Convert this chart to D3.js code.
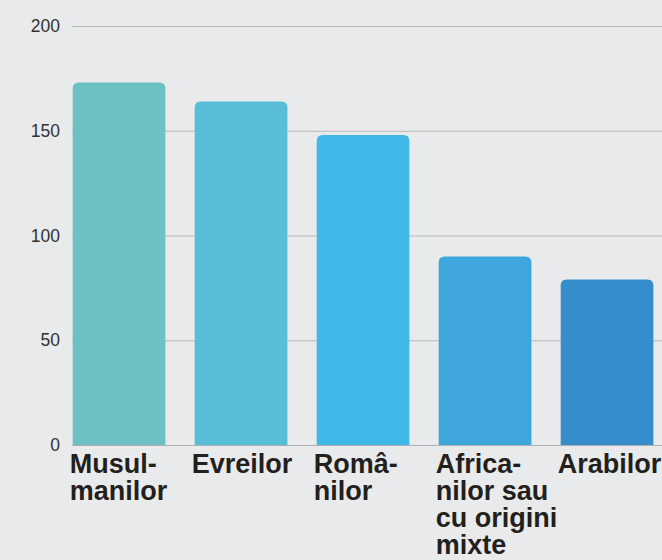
<!DOCTYPE html>
<html><head><meta charset="utf-8">
<script src="https://cdn.jsdelivr.net/npm/d3@7"></script>
<style>
html,body{margin:0;padding:0;background:#e9eaeb;}
svg{display:block;}
</style></head>
<body>
<svg id="chart" width="662" height="560"></svg>
<script>
const categories = ["Musulmanilor","Evreilor","Românilor","Africanilor sau cu origini mixte","Arabilor"];
const labelLines = [["Musul-","manilor"],["Evreilor"],["Româ-","nilor"],["Africa-","nilor sau","cu origini","mixte"],["Arabilor"]];
const values = [173, 164, 148, 90, 79];
const colors = ["#6dc1c3","#58bdd6","#40b9e8","#3fa6dd","#368dcc"];
const yTicks = [0, 50, 100, 150, 200];

const svg = d3.select("#chart");
const x = d3.scaleBand().domain(categories).range([72.7, 653.4]).paddingInner(0.24).paddingOuter(0);
const y = d3.scaleLinear().domain([0, 200]).range([445, 26]);

// gridlines
svg.append("g").selectAll("line").data(yTicks.filter(d=>d>0)).join("line")
  .attr("x1", 72).attr("x2", 662)
  .attr("y1", d=>y(d)+0.5).attr("y2", d=>y(d)+0.5)
  .attr("stroke", "#b9b9b9").attr("stroke-width", 1);

// y tick labels
svg.append("g").selectAll("text").data(yTicks).join("text")
  .attr("x", 60).attr("y", d=>y(d))
  .attr("dy", "0.35em")
  .attr("text-anchor", "end")
  .attr("font-family", "Liberation Sans, Arial, sans-serif")
  .attr("font-size", 17.5)
  .attr("fill", "#333")
  .text(d=>d);

// bars with rounded top corners
function barPath(x0, w, yTop, yBot, r){
  r = Math.min(r, w/2, yBot-yTop);
  return `M${x0},${yBot}V${yTop+r}Q${x0},${yTop} ${x0+r},${yTop}H${x0+w-r}Q${x0+w},${yTop} ${x0+w},${yTop+r}V${yBot}Z`;
}
svg.append("g").selectAll("path").data(categories).join("path")
  .attr("d", (c,i)=>barPath(x(c), x.bandwidth(), y(values[i]), y(0), 6))
  .attr("fill", (c,i)=>colors[i]);

// baseline
svg.append("line").attr("x1", 72).attr("x2", 662)
  .attr("y1", y(0)+0.5).attr("y2", y(0)+0.5)
  .attr("stroke", "#b0b0b0").attr("stroke-width", 1);

// category labels
const lab = svg.append("g").selectAll("text").data(categories).join("text")
  .attr("x", c=>x(c)-3)
  .attr("y", 473)
  .attr("font-family", "Liberation Sans, Arial, sans-serif")
  .attr("font-weight", "bold")
  .attr("font-size", 27)
  .attr("fill", "#231f1c");
lab.each(function(c,i){
  d3.select(this).selectAll("tspan").data(labelLines[i]).join("tspan")
    .attr("x", x(c)-3)
    .attr("dy", (d,j)=> j===0 ? 0 : 27)
    .text(d=>d);
});
</script>
</body></html>
